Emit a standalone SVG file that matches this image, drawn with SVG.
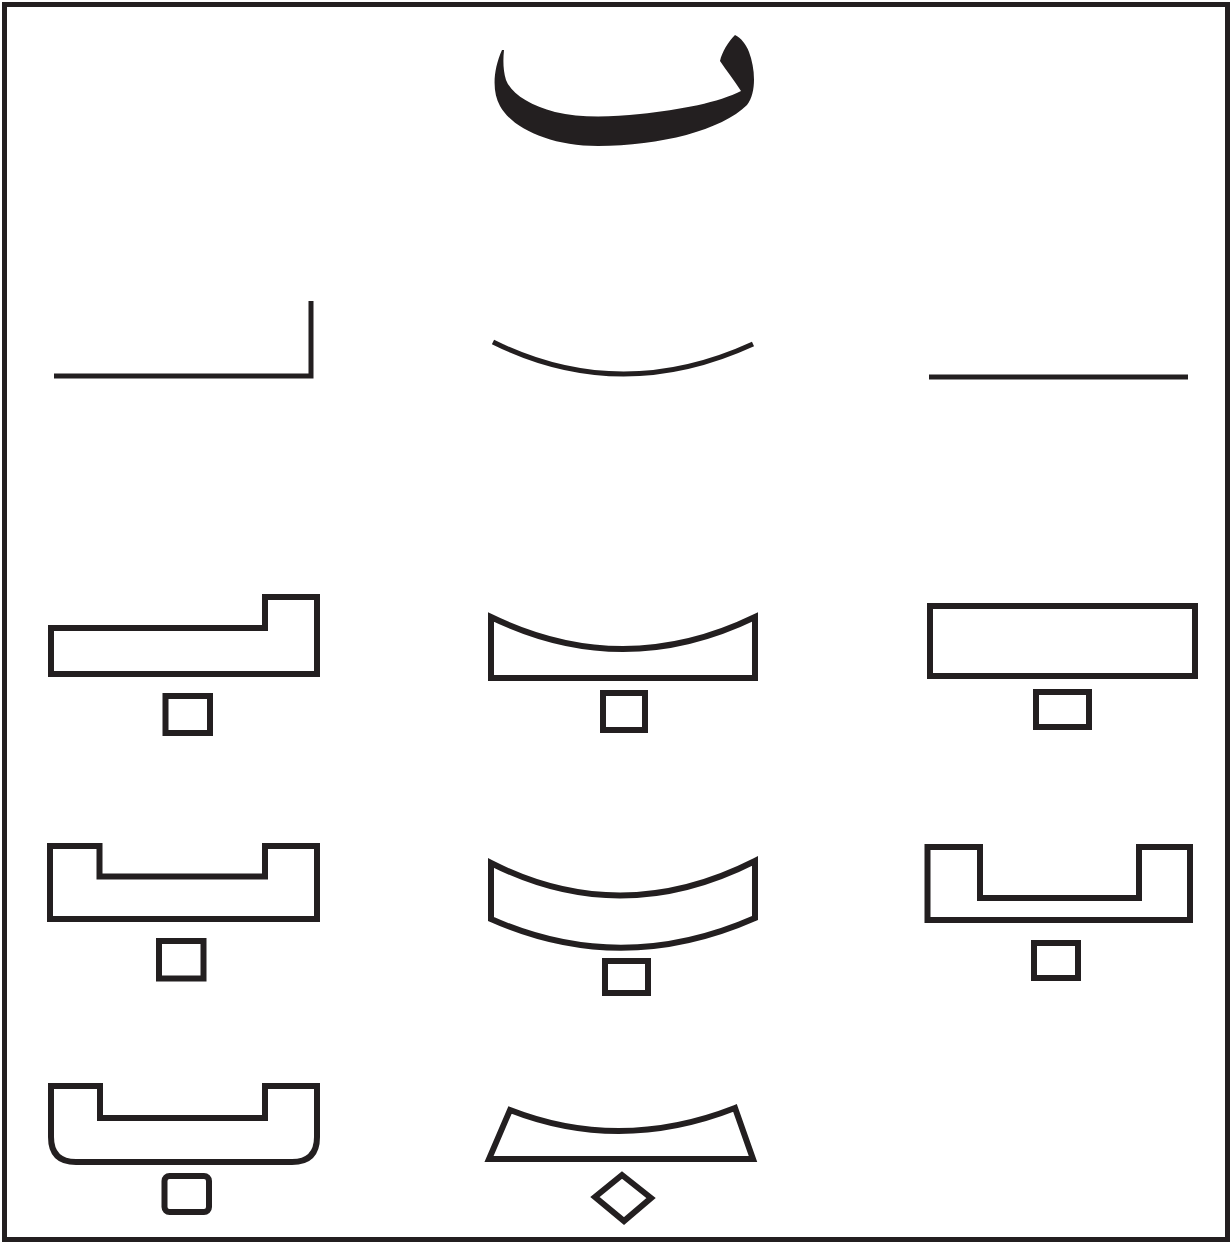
<svg xmlns="http://www.w3.org/2000/svg" width="1232" height="1244" viewBox="0 0 1232 1244">
<style>
.s{fill:none;stroke:#231f20;stroke-width:6;stroke-linejoin:miter}
.t{fill:none;stroke:#231f20;stroke-width:5;stroke-linecap:butt}
.g{fill:#231f20;stroke:none}
</style>
<rect x="0" y="0" width="1232" height="1244" fill="#ffffff"/>
<rect x="4.5" y="4.5" width="1223" height="1235" fill="none" stroke="#231f20" stroke-width="5"/>

<g id="glyph">
<path class="g" d="M 502 50 C 493 70, 492 92, 500 106 C 512 128, 550 146, 598 146 C 660 146, 722 130, 747 105 C 757 92, 755 68, 749 52 C 746 44, 741 38, 735 35 C 728 42, 722 52, 720 61 C 726 70, 734 80, 741 91 C 720 102, 680 110, 640 114 C 610 117, 580 118, 555 112 C 530 105, 512 95, 506 80 C 503 70, 503 60, 504 50 Z"/>
</g>

<g id="row2-left"><path class="t" d="M 54 376 H 311 V 301"/></g>
<g id="row2-mid"><path class="t" d="M 493 342 Q 620 405 753 344"/></g>
<g id="row2-right"><path class="t" d="M 929 377 H 1188"/></g>

<g id="row3-left">
<path class="s" d="M 51 628 H 265 V 597 H 317 V 674 H 51 Z"/>
<rect class="s" x="165.5" y="696" width="44.5" height="37"/>
</g>
<g id="row3-mid">
<path class="s" d="M 491 617 Q 623 681 755 617 V 678 H 491 Z"/>
<rect class="s" x="603" y="693" width="42" height="37"/>
</g>
<g id="row3-right">
<rect class="s" x="930" y="606" width="265" height="70"/>
<rect class="s" x="1036" y="692" width="53" height="35"/>
</g>

<g id="row4-left">
<path class="s" d="M 50 846 H 99.5 V 876.5 H 265 V 846 H 317 V 919 H 50 Z"/>
<rect class="s" x="159" y="941" width="44.5" height="37.5"/>
</g>
<g id="row4-mid">
<path class="s" d="M 491 863 Q 621 929 755 861 V 918 Q 621 977 491 919 Z"/>
<rect class="s" x="605" y="961" width="43" height="32"/>
</g>
<g id="row4-right">
<path class="s" d="M 927.5 847 H 980 V 898 H 1139 V 847 H 1190 V 920 H 927.5 Z"/>
<rect class="s" x="1034" y="943" width="44" height="35"/>
</g>

<g id="row5-left">
<path class="s" d="M 51 1086 H 100 V 1118 H 265 V 1086 H 317 V 1137 Q 317 1162 292 1162 H 76 Q 51 1162 51 1137 Z"/>
<rect class="s" x="164.5" y="1176" width="44.5" height="36" rx="5"/>
</g>
<g id="row5-mid">
<path class="s" d="M 510 1110 Q 620 1153 735 1108 L 753 1159 H 489 Z"/>
<path class="s" d="M 622 1175 L 651 1198 L 624 1221 L 595 1197 Z"/>
</g>
</svg>
